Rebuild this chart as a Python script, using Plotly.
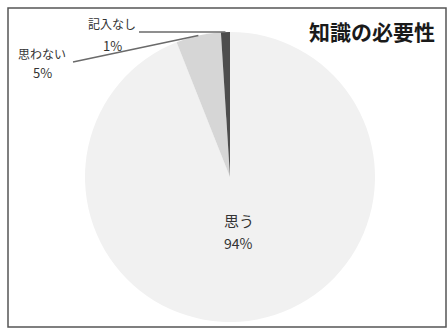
import math
import plotly.graph_objects as go

# Survey: is this knowledge necessary?
labels = ["思う", "思わない", "記入なし"]
values = [94, 5, 1]
colors = ["#f1f1f1", "#d6d6d6", "#4d4d4d"]
title_text = "知識の必要性"

W, H = 447, 329
CX, CY, R = 230, 177, 145  # pie centre / radius in pixels


def px(x, y):
    """Pixel position -> paper coordinates."""
    return x / W, 1 - y / H


def slice_point(idx, frac):
    """Point at the mid-angle of slice idx, at frac * radius (clockwise from 12 o'clock)."""
    total = sum(values)
    start = sum(values[:idx]) / total * 360
    mid = math.radians(start + values[idx] / total * 180)
    return CX + frac * R * math.sin(mid), CY - frac * R * math.cos(mid)


x0, y1 = px(CX - R, CY - R)
x1, y0 = px(CX + R, CY + R)

fig = go.Figure(go.Pie(
    labels=labels,
    values=values,
    sort=False,
    direction="clockwise",
    rotation=0,
    marker=dict(colors=colors, line=dict(width=0)),
    textinfo="none",
    hoverinfo="label+percent",
    domain=dict(x=[x0, x1], y=[y0, y1]),
    showlegend=False,
))

font_base = "Noto Sans CJK JP, sans-serif"
annotations = []
shapes = []


def text_at(x, y, text, size, color="#333333", xanchor="center"):
    ax_, ay_ = px(x, y)
    annotations.append(dict(
        x=ax_, y=ay_, xref="paper", yref="paper", showarrow=False,
        xanchor=xanchor, yanchor="middle", text=text,
        font=dict(family=font_base, size=size, color=color),
    ))


# label inside the large slice
ix, iy = slice_point(0, 0.38)
text_at(ix - 1, iy - 11, labels[0], 15)
text_at(ix - 2, iy + 12, f"{values[0]}%", 14)

# outside labels with leader lines
outside = {
    1: dict(name_pos=(42, 53), pct_pos=(42, 72), line_start=(73, 62), flat=False),
    2: dict(name_pos=(112, 23), pct_pos=(112, 45), line_start=(139, 32), flat=True),
}
for idx, spec in outside.items():
    ex, ey = slice_point(idx, 1.0)
    sx, sy = spec["line_start"]
    p0 = px(sx, sy)
    p1 = px(ex, sy if spec["flat"] else ey)
    shapes.append(dict(type="line", xref="paper", yref="paper",
                       x0=p0[0], y0=p0[1], x1=p1[0], y1=p1[1],
                       line=dict(color="#6a6a6a", width=1.5)))
    text_at(*spec["name_pos"], labels[idx], 12)
    text_at(*spec["pct_pos"], f"{values[idx]}%", 13)

# title
text_at(437, 31, f"<b>{title_text}</b>", 21, color="#1a1a1a", xanchor="right")

# chart frame
bx0, by0 = px(8, 8)
bx1, by1 = px(446, 327)
shapes.append(dict(type="rect", xref="paper", yref="paper",
                   x0=bx0, y0=by1, x1=bx1, y1=by0,
                   line=dict(color="#555555", width=1.5)))

fig.update_layout(
    width=W, height=H,
    margin=dict(l=0, r=0, t=0, b=0),
    paper_bgcolor="white",
    plot_bgcolor="white",
    annotations=annotations,
    shapes=shapes,
)

fig.write_html("out.html")
